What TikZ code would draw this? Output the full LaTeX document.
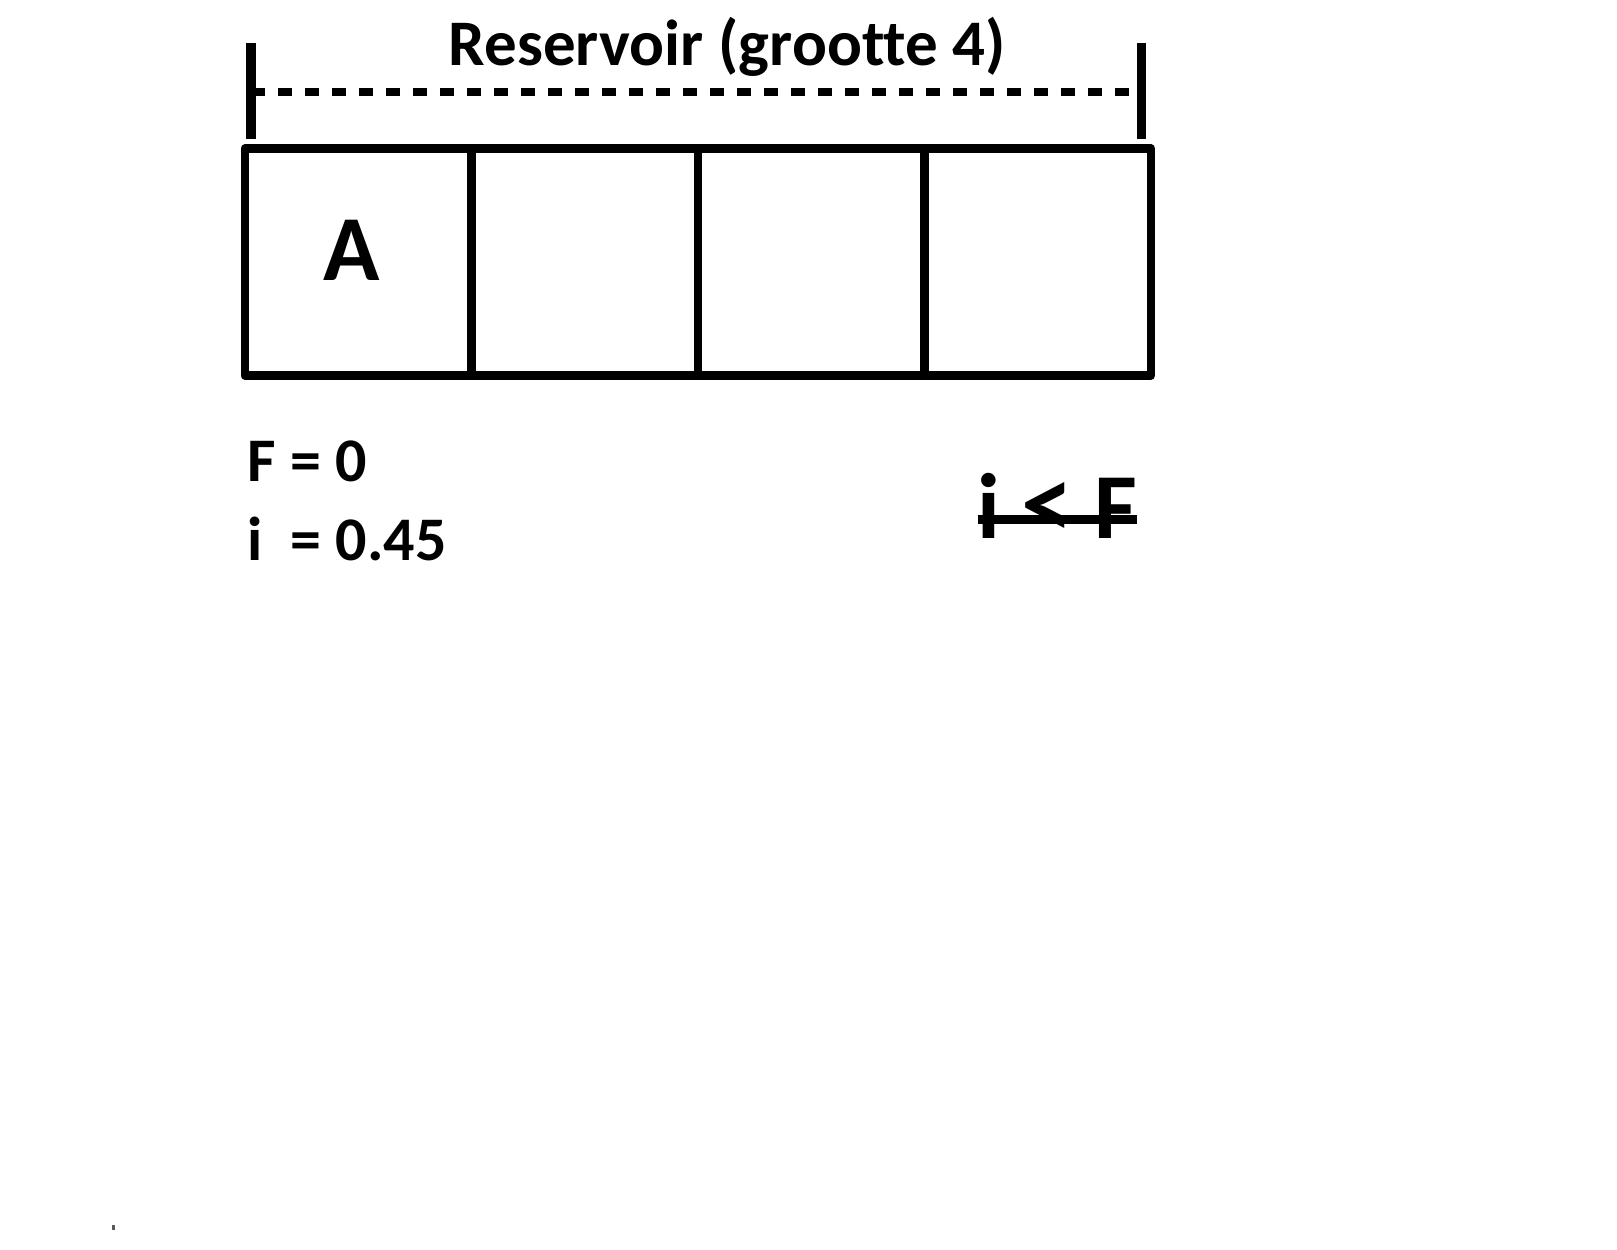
\documentclass[tikz,border=0pt]{standalone}
\usepackage{fontspec}
\setmainfont{Carlito}[Ligatures=CommonOff]
\usetikzlibrary{positioning}

\begin{document}
\begin{tikzpicture}[x=1pt, y=-1pt,
      cell/.style={draw, rectangle, line width=8.5pt, line join=round,
                   minimum width=226.5pt, minimum height=227pt,
                   outer sep=0pt, inner sep=0pt},
      bar/.style={line width=9.5pt},
      dimline/.style={line width=8pt, dash pattern=on 14pt off 13pt},
      txt/.style={font=\bfseries\fontsize{62}{74}\selectfont, inner sep=0pt},
      big/.style={font=\bfseries\fontsize{93}{110}\selectfont, inner sep=0pt}]

    % page frame (pixel coordinates, y downwards)
    \useasboundingbox (0,0) rectangle (1617,1250);

    % --- title and size marker ---
    \node[font=\bfseries\fontsize{65}{78}\selectfont, inner sep=0pt, anchor=base]
        (title) at (727.5,65) {Reservoir (grootte 4)};
    \coordinate (dimL) at (251,92);
    \coordinate (dimR) at (1141.6,92);
    \draw[dimline] (dimL) -- (dimR);
    \draw[bar] (dimL) ++(0,-49) -- ++(0,96);
    \draw[bar] (dimR) ++(0,-49) -- ++(0,96);

    % --- reservoir cells ---
    \node[cell] (cell1) at (358,262) {};
    \node[cell, right=0pt of cell1] (cell2) {};
    \node[cell, right=0pt of cell2] (cell3) {};
    \node[cell, right=0pt of cell3] (cell4) {};
    \node[big, anchor=base] (itemA) at (352,280.5) {A};

    % --- counters ---
    \node[txt, anchor=base west] (valF) at (247.5,481.6) {F = 0};
    \node[txt, anchor=base west] (valI) at (247.5,560) {i~~= 0.45};

    % --- struck out condition ---
    \node[big, anchor=base west] (cond) at (977.5,538)
        {i {\fontsize{104}{104}\selectfont<} F};
    \draw[line width=9.5pt] ([yshift=18.5pt]cond.base west) -- ([yshift=18.5pt]cond.base east);

    % stray mark bottom left
    \fill[black!65] (112,1225) rectangle (114.5,1229.5);

\end{tikzpicture}
\end{document}
